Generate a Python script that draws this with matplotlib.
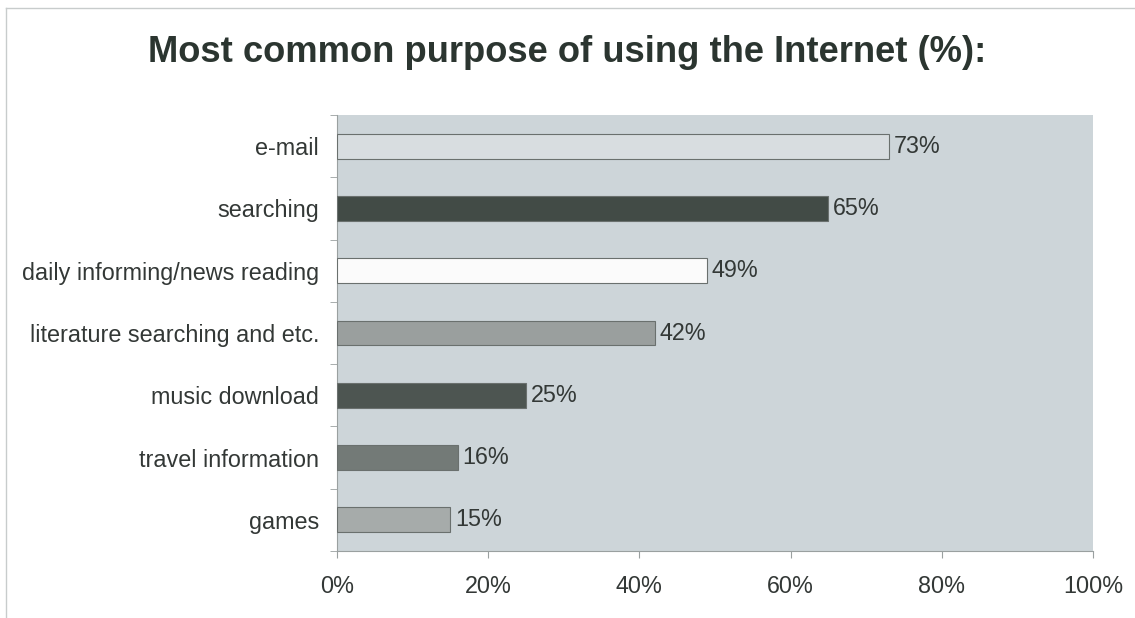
import matplotlib.pyplot as plt
from matplotlib.lines import Line2D
from matplotlib.ticker import FixedLocator

plt.rcParams['font.family'] = ['Liberation Sans', 'DejaVu Sans']

# data (top to bottom)
categories = ['e-mail', 'searching', 'daily informing/news reading',
              'literature searching and etc.', 'music download',
              'travel information', 'games']
values = [73, 65, 49, 42, 25, 16, 15]
bar_colors = ['#d8dde0', '#424b46', '#fbfbfb', '#9a9f9e', '#4d5551',
              '#737a77', '#a6abaa']

fig = plt.figure(figsize=(11.35, 6.18), dpi=100)
# faint frame of the original picture (left and top only)
fx, fy = 6 / 1135, 1 - 8 / 618
fig.add_artist(Line2D([fx, fx], [0, fy], transform=fig.transFigure,
                      color='#c8cccc', linewidth=1.0))
fig.add_artist(Line2D([fx, 1], [fy, fy], transform=fig.transFigure,
                      color='#c8cccc', linewidth=1.0))

ax = fig.add_axes([337 / 1135, 1 - 551 / 618, (1093 - 337) / 1135, (551 - 115) / 618])
ax.set_facecolor('#cdd5d9')

n = len(categories)
pos = list(range(n - 1, -1, -1))
ax.barh(pos, values, height=0.4, color=bar_colors,
        edgecolor='#6a706e', linewidth=0.8, zorder=3)

for p, v in zip(pos, values):
    ax.text(v + 0.6, p, f'{v}%', va='center', ha='left',
            fontsize=16.8, color='#333836')

ax.set_xlim(0, 100)
ax.set_ylim(-0.5, n - 0.5)
ax.set_xticks([0, 20, 40, 60, 80, 100])
ax.set_xticklabels([f'{t}%' for t in [0, 20, 40, 60, 80, 100]])
ax.set_yticks(pos)
ax.set_yticklabels(categories)
ax.yaxis.set_minor_locator(FixedLocator([i - 0.5 for i in range(n + 1)]))
ax.tick_params(axis='y', which='major', length=0, pad=13, labelsize=16.8,
               labelcolor='#333836')
ax.tick_params(axis='y', which='minor', length=5, color='#9aa0a0')
ax.tick_params(axis='x', length=5, color='#9aa0a0', pad=12, labelsize=16.8,
               labelcolor='#333836')

for side in ['top', 'right']:
    ax.spines[side].set_visible(False)
ax.spines['left'].set_color('#9aa0a0')
ax.spines['bottom'].set_color('#9aa0a0')

fig.text(0.5, 1 - 52 / 618, 'Most common purpose of using the Internet (%):',
         ha='center', va='center', fontsize=26.2, fontweight='bold',
         color='#2b3530')

fig.savefig('out.png', dpi=100)
